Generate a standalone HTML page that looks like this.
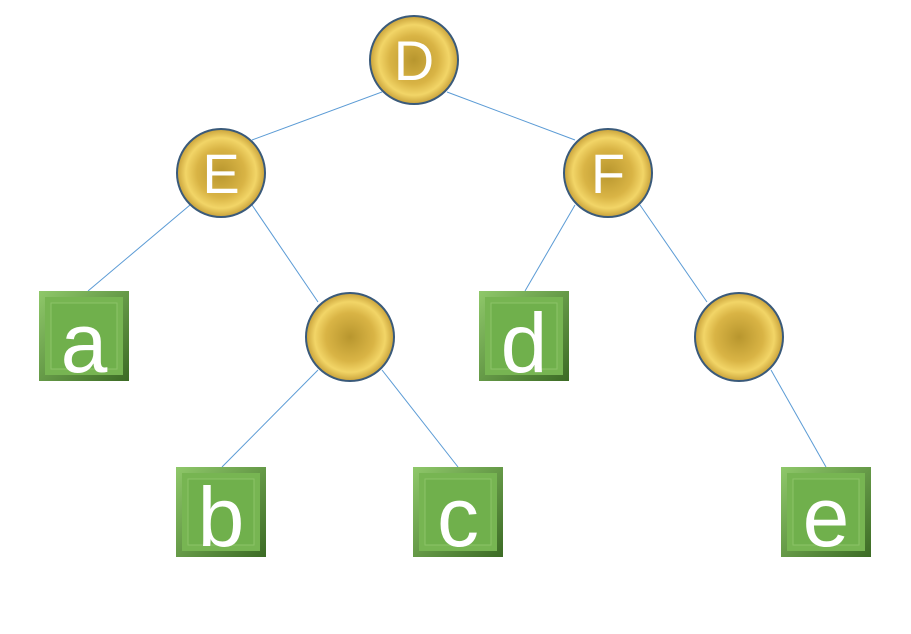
<!DOCTYPE html>
<html><head><style>body{margin:0;background:#fff}svg{display:block}</style></head><body>
<svg width="911" height="634" xmlns="http://www.w3.org/2000/svg">
<defs>
<radialGradient id="g" cx="50%" cy="50%" r="50%">
<stop offset="0" stop-color="#b8962e"/><stop offset="0.55" stop-color="#d9b445"/><stop offset="0.8" stop-color="#f2d567"/><stop offset="1" stop-color="#c9a23a"/>
</radialGradient>
<linearGradient id="sq" x1="0" y1="0" x2="1" y2="1"><stop offset="0" stop-color="#8fc86a"/><stop offset="1" stop-color="#3c6b25"/></linearGradient>
<g id="box"><rect x="0" y="0" width="90" height="90" fill="url(#sq)"/><rect x="6" y="6" width="78" height="78" fill="#77b552"/><rect x="12" y="12" width="66" height="66" fill="#70b04c" stroke="#8cc368" stroke-width="1"/></g>
</defs>
<g stroke="#5b9bd5" stroke-width="1">
<line x1="382" y1="92" x2="252" y2="140"/><line x1="447" y1="92" x2="575" y2="140"/>
<line x1="190" y1="205" x2="88" y2="291"/><line x1="252" y1="205" x2="318" y2="302"/>
<line x1="575" y1="205" x2="525" y2="291"/><line x1="640" y1="205" x2="707" y2="302"/>
<line x1="318" y1="370" x2="222" y2="467"/><line x1="382" y1="370" x2="458" y2="467"/>
<line x1="771" y1="370" x2="826" y2="467"/>
</g>
<g stroke="#3a5a7a" stroke-width="2" fill="url(#g)">
<circle cx="414" cy="60" r="44"/><circle cx="221" cy="173" r="44"/><circle cx="608" cy="173" r="44"/>
<circle cx="350" cy="337" r="44"/><circle cx="739" cy="337" r="44"/>
</g>
<use href="#box" x="39" y="291"/><use href="#box" x="176" y="467"/><use href="#box" x="413" y="467"/>
<use href="#box" x="479" y="291"/><use href="#box" x="781" y="467"/>
<g fill="#fff" font-family="Liberation Sans, sans-serif" text-anchor="middle">
<text x="414" y="80" font-size="56">D</text><text x="221" y="193" font-size="56">E</text><text x="608" y="193" font-size="56">F</text>
<g font-size="84"><text x="84" y="372">a</text><text x="221" y="546">b</text><text x="458" y="546">c</text><text x="524" y="372">d</text><text x="826" y="546">e</text></g>
</g>
</svg>
</body></html>
